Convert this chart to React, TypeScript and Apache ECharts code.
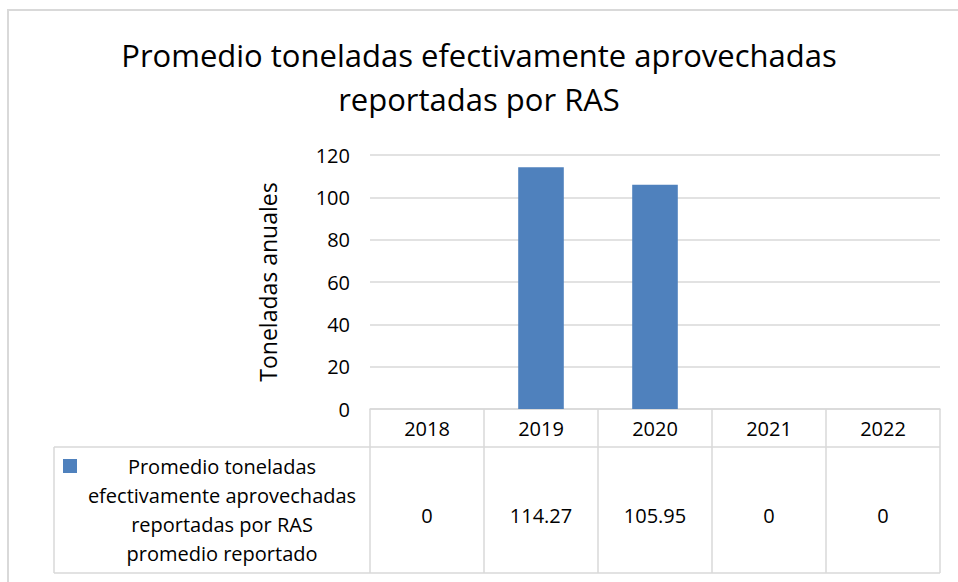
import React, { useEffect, useRef } from "react";
import * as echarts from "echarts";

const TITLE_LINES = ["Promedio toneladas efectivamente aprovechadas", "reportadas por RAS"];
const Y_AXIS_NAME = "Toneladas anuales";
const YEARS = ["2018", "2019", "2020", "2021", "2022"];
const VALUES = [0, 114.27, 105.95, 0, 0];
const VALUE_LABELS = ["0", "114.27", "105.95", "0", "0"];
const SERIES_LINES = [
  "Promedio toneladas",
  "efectivamente aprovechadas",
  "reportadas por RAS",
  "promedio reportado",
];
const SERIES_NAME = SERIES_LINES.join(" ");

const FONT = "Open Sans";
const GRID_COLOR = "#d9d9d9";
const BAR_COLOR = "#4f81bd";

export default function App() {
  const ref = useRef<HTMLDivElement>(null);
  useEffect(() => {
    document.body.style.margin = "0";
    const chart = echarts.init(ref.current!, null, { renderer: "svg" });
    const tableTop = 409;
    const rowSplit = 447;
    const tableBottom = 573;
    const legendLeft = 54;
    const tableRight = 940;
    chart.setOption({
      animation: false,
      backgroundColor: "#fff",
      textStyle: { fontFamily: FONT },
      title: {
        text: TITLE_LINES.join("\n"),
        left: "center",
        top: 28,
        textStyle: {
          fontFamily: FONT,
          fontSize: 31,
          fontWeight: "normal",
          color: "#000",
          lineHeight: 44,
        },
      },
      grid: { left: 370, right: 958 - tableRight, top: 155, bottom: 582 - tableTop },
      xAxis: [
        {
          type: "category",
          data: YEARS,
          position: "bottom",
          axisLine: { show: true, lineStyle: { color: GRID_COLOR, width: 1.5 } },
          axisTick: {
            show: true,
            inside: false,
            length: tableBottom - tableTop,
            lineStyle: { color: GRID_COLOR, width: 1.5 },
          },
          axisLabel: { fontSize: 20, color: "#000", margin: 9, fontFamily: FONT },
        },
        {
          type: "category",
          data: YEARS,
          position: "bottom",
          offset: 87,
          axisLine: { show: false },
          axisTick: { show: false },
          axisLabel: {
            fontSize: 20,
            color: "#000",
            margin: 9,
            fontFamily: FONT,
            formatter: (_v: string, i: number) => VALUE_LABELS[i],
          },
        },
      ],
      yAxis: {
        type: "value",
        min: 0,
        max: 120,
        interval: 20,
        name: Y_AXIS_NAME,
        nameLocation: "middle",
        nameRotate: 90,
        nameGap: 91,
        nameTextStyle: { fontSize: 23, color: "#000", fontFamily: FONT },
        axisLine: { show: false },
        axisTick: { show: false },
        axisLabel: { fontSize: 20, color: "#000", margin: 20, fontFamily: FONT },
        splitLine: { lineStyle: { color: GRID_COLOR, width: 1.5 } },
      },
      series: [
        {
          name: SERIES_NAME,
          type: "bar",
          xAxisIndex: 0,
          data: VALUES,
          barCategoryGap: "60%",
          itemStyle: { color: BAR_COLOR },
        },
      ],
      graphic: [
        {
          type: "rect",
          shape: { x: 8, y: 10, width: 1000, height: 1000 },
          style: { fill: "none", stroke: GRID_COLOR, lineWidth: 2 },
          silent: true,
        },
        {
          type: "line",
          shape: { x1: legendLeft, y1: rowSplit, x2: tableRight, y2: rowSplit },
          style: { stroke: GRID_COLOR, lineWidth: 1.5 },
        },
        {
          type: "line",
          shape: { x1: legendLeft, y1: tableBottom, x2: tableRight, y2: tableBottom },
          style: { stroke: GRID_COLOR, lineWidth: 1.5 },
        },
        {
          type: "line",
          shape: { x1: legendLeft, y1: rowSplit, x2: legendLeft, y2: tableBottom },
          style: { stroke: GRID_COLOR, lineWidth: 1.5 },
        },
        {
          type: "rect",
          shape: { x: 63, y: 459, width: 14, height: 14 },
          style: { fill: BAR_COLOR },
        },
        {
          type: "text",
          x: 222,
          y: 452,
          style: {
            text: SERIES_LINES.join("\n"),
            align: "center",
            verticalAlign: "top",
            lineHeight: 29,
            fontSize: 20,
            fontFamily: FONT,
            fill: "#000",
          },
        },
      ],
    });
    return () => chart.dispose();
  }, []);
  return (
    <div
      ref={ref}
      style={{ position: "absolute", left: 0, top: 0, width: 958, height: 582 }}
    />
  );
}
